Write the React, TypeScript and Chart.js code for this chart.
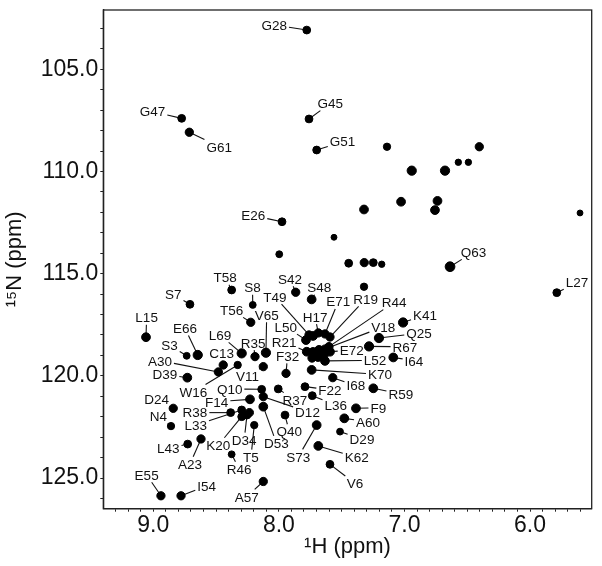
import React, { useEffect, useRef } from 'react';
import { Chart, registerables } from 'chart.js';

Chart.register(...registerables);

// ---------- data ----------
const peakLabels = [
  'G28', 'G47', 'G61', 'G45', 'G51', 'E26', 'Q63', 'L27', 'T58', 'S42',
  'S48', 'S7', 'S8', 'T56', 'V65', 'L15', 'E66', 'L69', 'R35', 'S3',
  'C13', 'A30', 'D39', 'W16', 'V11', 'Q10', 'F14', 'D24', 'N4', 'R38',
  'L33', 'K20', 'D34', 'T5', 'D53', 'D12', 'F32', 'R37', 'Q40', 'S73',
  'K62', 'V6', 'F22', 'L36', 'K70', 'I68', 'R59', 'F9', 'A60', 'D29',
  'R46', 'A57', 'E55', 'I54', 'L43', 'A23', 'K41', 'Q25', 'R67', 'I64',
  'L52', 'E72', 'R21', 'L50', 'T49', 'H17', 'E71', 'R19', 'R44', 'V18',
];
// 1H shift (ppm)
const peakH = [
  7.778, 8.774, 8.713, 7.760, 7.699, 7.975, 6.637, 5.787, 8.376, 7.866,
  7.739, 8.708, 8.208, 8.224, 8.103, 9.058, 8.646, 8.296, 8.190, 8.734,
  8.443, 8.482, 8.729, 8.328, 8.124, 8.137, 8.230, 8.841, 8.859, 8.384,
  8.296, 8.296, 8.254, 8.196, 8.124, 8.124, 7.943, 8.005, 7.951, 7.699,
  7.686, 7.593, 7.792, 7.734, 7.739, 7.571, 7.248, 7.386, 7.479, 7.513,
  8.376, 8.124, 8.939, 8.779, 8.726, 8.620, 7.011, 7.203, 7.282, 7.089,
  7.633, 7.593, 7.778, 7.784, 7.760, 7.686, 7.633, 7.593, 7.601, 7.633,
];
// 15N shift (ppm)
const peakN = [
  103.08, 107.40, 108.08, 107.43, 108.95, 112.46, 114.66, 115.93, 115.80, 115.91,
  116.26, 116.50, 116.53, 117.38, 118.87, 118.11, 118.98, 118.90, 119.06, 119.02,
  119.47, 119.81, 120.09, 119.47, 119.55, 120.66, 121.15, 121.59, 122.46, 121.80,
  121.67, 122.00, 121.92, 122.41, 121.51, 121.02, 119.88, 120.64, 121.92, 122.41,
  123.43, 124.33, 120.53, 120.97, 119.71, 120.09, 120.61, 121.59, 122.08, 122.73,
  123.84, 125.17, 125.87, 125.87, 123.34, 123.09, 117.39, 118.15, 118.56, 119.10,
  119.27, 118.82, 118.82, 118.25, 118.00, 117.90, 117.95, 118.10, 118.57, 118.69,
];
// relative peak intensity
const peakIntensity = [
  2, 2, 2.2, 2, 2, 2, 2.8, 2, 2, 2.2,
  2.4, 2, 1.6, 2.2, 2.6, 2.4, 2.6, 2.6, 2.2, 1.6,
  2.2, 2.2, 2.4, 1.8, 2.2, 2, 2.4, 2.2, 1.8, 2,
  2, 2, 2, 1.8, 2.4, 2.2, 2.2, 2, 2, 2.4,
  2.4, 2, 2, 2, 2.4, 2.2, 2.4, 2.4, 2.4, 1.6,
  1.6, 2.2, 2.2, 2.2, 2, 2.2, 2.6, 2.6, 2.6, 2.4,
  2.4, 2.4, 2.4, 2.4, 2.2, 2.2, 2.2, 2.2, 2.2, 2.2,
];
// assignment label anchors (ppm)
const labelH = [
  8.037, 9.006, 8.475, 7.590, 7.493, 8.204, 6.450, 5.626, 8.427, 7.911,
  7.678, 8.841, 8.210, 8.376, 8.097, 9.053, 8.748, 8.469, 8.204, 8.871,
  8.455, 8.947, 8.907, 8.681, 8.250, 8.392, 8.495, 8.973, 8.960, 8.668,
  8.662, 8.482, 8.276, 8.222, 8.019, 7.772, 7.931, 7.873, 7.918, 7.845,
  7.380, 7.394, 7.593, 7.547, 7.195, 7.387, 7.029, 7.208, 7.290, 7.338,
  8.316, 8.256, 9.053, 8.575, 8.881, 8.708, 6.836, 6.884, 6.996, 6.924,
  7.234, 7.420, 7.958, 7.945, 8.031, 7.712, 7.527, 7.310, 7.082, 7.168,
];
const labelN = [
  102.83, 107.07, 108.79, 106.66, 108.54, 112.16, 113.94, 115.44, 115.18, 115.26,
  115.67, 116.01, 115.67, 116.78, 117.02, 117.14, 117.67, 118.00, 118.38, 118.51,
  118.90, 119.26, 119.93, 120.78, 120.04, 120.64, 121.27, 121.13, 121.97, 121.80,
  122.41, 123.39, 123.14, 123.97, 123.30, 121.76, 119.03, 121.18, 122.73, 123.96,
  123.99, 125.26, 120.69, 121.43, 119.93, 120.48, 120.89, 121.56, 122.25, 123.09,
  124.57, 125.92, 124.85, 125.38, 123.55, 124.32, 117.02, 117.92, 118.58, 119.26,
  119.24, 118.74, 118.33, 117.60, 116.13, 117.11, 116.37, 116.24, 116.40, 117.60,
];
// unassigned cross-peaks
const otherH = [
  7.139, 6.404, 6.942, 6.677, 6.571, 6.491, 7.322, 7.027, 6.737, 6.757,
  5.602, 7.561, 7.997, 7.444, 7.320, 7.248, 7.181, 7.322, 8.235, 7.728,
  7.728, 7.680, 7.688, 7.736, 7.640,
];
const otherN = [
  108.79, 108.79, 109.96, 109.96, 109.55, 109.55, 111.86, 111.48, 111.44, 111.89,
  112.03, 113.22, 114.05, 114.49, 114.46, 114.46, 114.54, 115.64, 121.80, 118.05,
  118.83, 118.73, 119.08, 119.13, 118.98,
];
const otherIntensity = [
  1.8, 2.2, 2.6, 2.6, 1.4, 1.4, 2.4, 2.4, 2.4, 2.4,
  1.2, 1.2, 1.6, 2, 2.2, 2, 1.4, 1.8, 2.2, 2.4,
  2.4, 2.4, 2.4, 2.2, 2.2,
];

const xTickLabels = [9.0, 8.0, 7.0, 6.0];
const yTickLabels = [105, 110, 115, 120, 125];
const xTitle = '\u00b9H (ppm)';
const yTitle = '\u00b9\u2075N (ppm)';

// ---------- style ----------
const FONT = '"Liberation Sans", Arial, Helvetica, sans-serif';
const LABEL_SIZE = 13.5;
const INK = '#111';

const assigned = peakH.map((h, i) => ({ x: h, y: peakN[i], i: peakIntensity[i] }));
const others = otherH.map((h, i) => ({ x: h, y: otherN[i], i: otherIntensity[i] }));

const radiusOf = (ctx: any) => 1.5 + (ctx.raw?.i ?? 2) * 1.2;

const labelPlugin = {
  id: 'peakLabels',
  beforeDatasetsDraw(chart: any) {
    const { ctx, scales } = chart;
    const x = scales.x, y = scales.y;
    ctx.save();
    ctx.font = `${LABEL_SIZE}px ${FONT}`;
    ctx.strokeStyle = INK;
    ctx.lineWidth = 1.1;
    peakLabels.forEach((name, i) => {
      const px = x.getPixelForValue(peakH[i]);
      const py = y.getPixelForValue(peakN[i]);
      const lx = x.getPixelForValue(labelH[i]);
      const ly = y.getPixelForValue(labelN[i]);
      const w = ctx.measureText(name).width;
      const a = w / 2 + 2;
      const b = LABEL_SIZE * 0.36 + 2.5;
      const dx = px - lx, dy = py - ly;
      const tx = dx !== 0 ? a / Math.abs(dx) : Infinity;
      const ty = dy !== 0 ? b / Math.abs(dy) : Infinity;
      const t = Math.min(tx, ty);
      if (t < 1) {
        ctx.beginPath();
        ctx.moveTo(lx + dx * t, ly + dy * t);
        ctx.lineTo(px, py);
        ctx.stroke();
      }
    });
    ctx.restore();
  },
  afterDatasetsDraw(chart: any) {
    const { ctx, scales, chartArea } = chart;
    const x = scales.x, y = scales.y;
    ctx.save();
    ctx.font = `${LABEL_SIZE}px ${FONT}`;
    ctx.fillStyle = INK;
    ctx.textAlign = 'center';
    ctx.textBaseline = 'alphabetic';
    peakLabels.forEach((name, i) => {
      const lx = x.getPixelForValue(labelH[i]);
      const ly = y.getPixelForValue(labelN[i]);
      ctx.fillText(name, lx, ly + LABEL_SIZE * 0.358);
    });
    ctx.strokeStyle = '#222';
    ctx.lineWidth = 1.3;
    ctx.strokeRect(chartArea.left, chartArea.top, chartArea.right - chartArea.left, chartArea.bottom - chartArea.top);
    ctx.restore();
  },
};

const isLabeled = (v: number, list: number[]) => list.some((t) => Math.abs(t - v) < 1e-6);

function buildConfig(): any {
  const pointStyle = {
    pointStyle: 'circle',
    pointBackgroundColor: '#000',
    pointBorderColor: '#000',
    pointBorderWidth: 1,
    pointRadius: radiusOf,
    pointHoverRadius: radiusOf,
    showLine: false,
  };
  return {
    type: 'scatter',
    data: {
      datasets: [
        { label: 'assigned', data: assigned, ...pointStyle },
        { label: 'unassigned', data: others, ...pointStyle },
      ],
    },
    plugins: [labelPlugin],
    options: {
      animation: false,
      responsive: false,
      maintainAspectRatio: false,
      events: [],
      layout: { padding: { top: 10, right: 10.3, left: 0, bottom: 0 } },
      plugins: { legend: { display: false }, tooltip: { enabled: false } },
      scales: {
        x: {
          type: 'linear',
          reverse: true,
          min: 5.509,
          max: 9.398,
          afterBuildTicks(s: any) {
            const t = [];
            for (let k = 56; k <= 93; k++) t.push({ value: k / 10 });
            s.ticks = t;
          },
          afterFit(s: any) {
            s.height = 57.3;
            s.paddingLeft = 0;
            s.paddingRight = 0;
          },
          ticks: {
            autoSkip: false,
            maxRotation: 0,
            minRotation: 0,
            padding: 0,
            color: INK,
            font: { size: 23, family: FONT },
            callback: (v: number) => (isLabeled(v, xTickLabels) ? v.toFixed(1) : ''),
          },
          grid: { drawOnChartArea: false, drawTicks: true, tickLength: 3, tickColor: '#222', tickWidth: 1 },
          border: { display: true, color: '#222', width: 1.3 },
          title: { display: true, text: xTitle, color: INK, font: { size: 22, family: FONT }, padding: { top: 0, bottom: 6 } },
        },
        y: {
          type: 'linear',
          reverse: true,
          min: 102.098,
          max: 126.502,
          afterBuildTicks(s: any) {
            const t = [];
            for (let k = 103; k <= 126; k++) t.push({ value: k });
            s.ticks = t;
          },
          afterFit(s: any) {
            s.width = 103.3;
            s.paddingTop = 0;
            s.paddingBottom = 0;
          },
          ticks: {
            autoSkip: false,
            padding: 2,
            color: INK,
            font: { size: 23, family: FONT },
            callback: (v: number) => (isLabeled(v, yTickLabels) ? v.toFixed(1) : ''),
          },
          grid: { drawOnChartArea: false, drawTicks: true, tickLength: 3, tickColor: '#222', tickWidth: 1 },
          border: { display: true, color: '#222', width: 1.3 },
          title: { display: true, text: yTitle, color: INK, font: { size: 22, family: FONT }, padding: { top: 2, bottom: 0 } },
        },
      },
    },
  };
}

export default function App() {
  const ref = useRef<HTMLCanvasElement>(null);
  useEffect(() => {
    if (!ref.current) return;
    const chart = new Chart(ref.current, buildConfig());
    return () => chart.destroy();
  }, []);
  return (
    <div style={{ position: 'absolute', left: 0, top: 0, width: 602, height: 566, background: '#fff' }}>
      <canvas ref={ref} width={602} height={566} style={{ display: 'block', width: 602, height: 566 }} />
    </div>
  );
}
